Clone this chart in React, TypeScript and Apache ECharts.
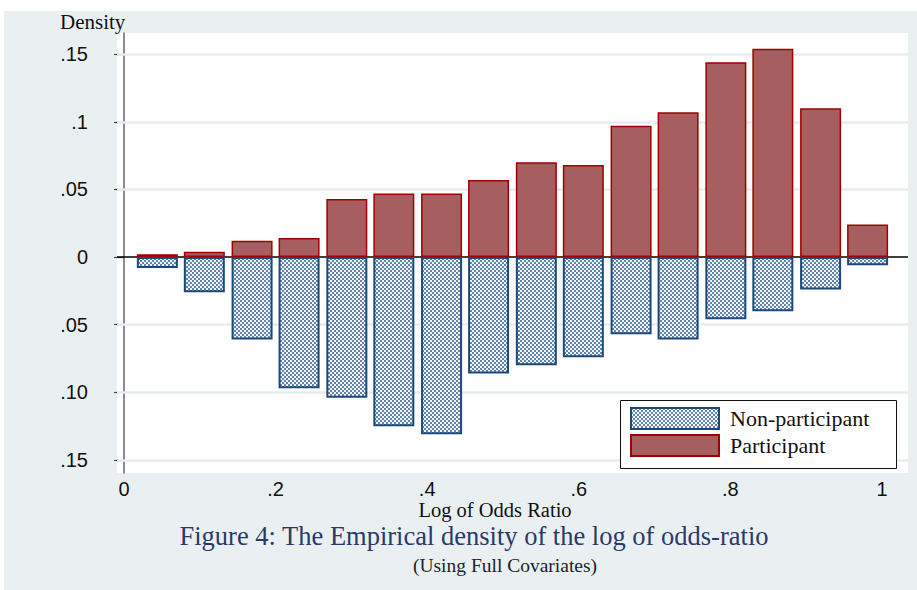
import React, { useEffect, useRef } from "react";
import * as echarts from "echarts";

// Bin centres (log of odds ratio)
const binCenters = [0.044, 0.106, 0.169, 0.231, 0.294, 0.356, 0.419, 0.481, 0.544, 0.606, 0.669, 0.731, 0.794, 0.856, 0.919, 0.981];
// Density, participants (plotted upwards)
const participant = [0.002, 0.004, 0.012, 0.014, 0.043, 0.047, 0.047, 0.057, 0.070, 0.068, 0.097, 0.107, 0.144, 0.154, 0.110, 0.024];
// Density, non-participants (plotted downwards)
const nonParticipant = [-0.008, -0.026, -0.061, -0.097, -0.104, -0.125, -0.131, -0.086, -0.080, -0.074, -0.057, -0.061, -0.046, -0.040, -0.024, -0.006];

const xTickValues = [0, 0.2, 0.4, 0.6, 0.8, 1];
const xTickLabels = ["0", ".2", ".4", ".6", ".8", "1"];
const yTickValues = [0.15, 0.1, 0.05, 0, -0.05, -0.1, -0.15];
const yTickLabels = [".15", ".1", ".05", "0", ".05", ".10", ".15"];
const yGridValues = [0.15, 0.1, 0.05, -0.05, -0.1, -0.15];

const seriesNames = ["Non-participant", "Participant"];
const titleText = "Figure 4: The Empirical density of the log of odds-ratio";
const subtitleText = "(Using Full Covariates)";
const xAxisTitle = "Log of Odds Ratio";
const yAxisTitle = "Density";

function makePattern(): HTMLCanvasElement {
  const c = document.createElement("canvas");
  c.width = 4;
  c.height = 4;
  const ctx = c.getContext("2d")!;
  ctx.fillStyle = "#f4f7fa";
  ctx.fillRect(0, 0, 4, 4);
  ctx.fillStyle = "#6283ab";
  ctx.fillRect(0, 0, 2, 2);
  ctx.fillRect(2, 2, 2, 2);
  return c;
}

export default function App() {
  const ref = useRef<HTMLDivElement>(null);

  useEffect(() => {
    if (!ref.current) return;
    const chart = echarts.init(ref.current, undefined, { renderer: "svg" });
    const pattern = makePattern();
    const serif = "Liberation Serif";
    const sans = "Liberation Sans";

    const option: any = {
      animation: false,
      backgroundColor: "#ffffff",
      grid: {
        left: 117,
        top: 33,
        right: 9,
        bottom: 117,
        show: true,
        backgroundColor: "#ffffff",
        borderWidth: 0,
        containLabel: false,
      },
      graphic: [
        {
          type: "rect",
          z: -10,
          silent: true,
          shape: { x: 4, y: 11, width: 913, height: 579 },
          style: { fill: "#eaf0f2" },
        },
        {
          type: "rect",
          z: 3,
          silent: true,
          shape: { x: 620.5, y: 400.5, width: 276, height: 68 },
          style: { fill: "#ffffff", stroke: "#111", lineWidth: 1 },
        },
        {
          type: "text",
          left: 60,
          top: 11,
          style: { text: yAxisTitle, font: `21px "${serif}"`, fill: "#111" },
        },
        {
          type: "text",
          x: 495,
          y: 510,
          style: { text: xAxisTitle, font: `20.5px "${serif}"`, fill: "#111", align: "center", verticalAlign: "middle" },
        },
        {
          type: "text",
          x: 474,
          y: 535.5,
          style: { text: titleText, font: `26.5px "${serif}"`, fill: "#283a6c", align: "center", verticalAlign: "middle" },
        },
        {
          type: "text",
          x: 505,
          y: 565,
          style: { text: subtitleText, font: `19.5px "${serif}"`, fill: "#222", align: "center", verticalAlign: "middle" },
        },
      ],
      legend: {
        data: seriesNames,
        orient: "vertical",
        left: 620,
        top: 400,
        z: 5,
        itemWidth: 88,
        itemHeight: 21,
        itemGap: 4,
        padding: [7, 10, 8, 10],
        backgroundColor: "transparent",
        borderWidth: 0,
        icon: "rect",
        selectedMode: false,
        textStyle: { fontFamily: serif, fontSize: 22, color: "#111", lineHeight: 22, padding: [0, 0, 0, 6] },
      },
      xAxis: {
        type: "value",
        min: -0.0092,
        max: 1.0343,
        axisLine: { show: false },
        axisTick: { show: false },
        splitLine: { show: false },
        axisLabel: {
          customValues: xTickValues,
          formatter: (v: number) => {
            const i = xTickValues.findIndex((t) => Math.abs(t - v) < 1e-9);
            return i >= 0 ? xTickLabels[i] : "";
          },
          fontFamily: sans,
          fontSize: 20,
          color: "#111",
          margin: 6,
        },
      },
      yAxis: {
        type: "value",
        min: -0.1596,
        max: 0.1656,
        axisLine: { show: true, lineStyle: { color: "#666", width: 1.5 } },
        axisTick: { show: true, customValues: yTickValues, length: 10, lineStyle: { color: "#444", width: 1.2 } },
        splitLine: { show: false },
        axisLabel: {
          customValues: yTickValues,
          formatter: (v: number) => {
            const i = yTickValues.findIndex((t) => Math.abs(t - v) < 1e-9);
            return i >= 0 ? yTickLabels[i] : "";
          },
          fontFamily: sans,
          fontSize: 20,
          color: "#111",
          margin: 29,
        },
      },
      series: [
        {
          name: "grid",
          type: "line",
          data: [],
          z: 0,
          silent: true,
          markLine: {
            silent: true,
            z: 1,
            symbol: "none",
            label: { show: false },
            lineStyle: { color: "#e6edf0", width: 2.5, type: "solid" },
            data: yGridValues.map((v) => ({ yAxis: v })),
          },
        },
        {
          name: seriesNames[0],
          type: "bar",
          barWidth: 41,
          barGap: "-100%",
          z: 2,
          itemStyle: {
            color: { image: pattern, repeat: "repeat" },
            borderColor: "#1c4a78",
            borderWidth: 2,
          },
          data: binCenters.map((x, i) => [x, nonParticipant[i]]),
        },
        {
          name: seriesNames[1],
          type: "bar",
          barWidth: 41,
          barGap: "-100%",
          z: 3,
          itemStyle: {
            color: "#a65e61",
            borderColor: "#a00000",
            borderWidth: 1.5,
          },
          data: binCenters.map((x, i) => [x, participant[i]]),
          markLine: {
            silent: true,
            z: 1,
            symbol: "none",
            label: { show: false },
            lineStyle: { color: "#000", width: 1.5, type: "solid" },
            data: [{ yAxis: 0 }],
          },
        },
      ],
    };

    chart.setOption(option);
    return () => chart.dispose();
  }, []);

  return (
    <div
      ref={ref}
      style={{ position: "fixed", left: 0, top: 0, width: 917, height: 590 }}
    />
  );
}
